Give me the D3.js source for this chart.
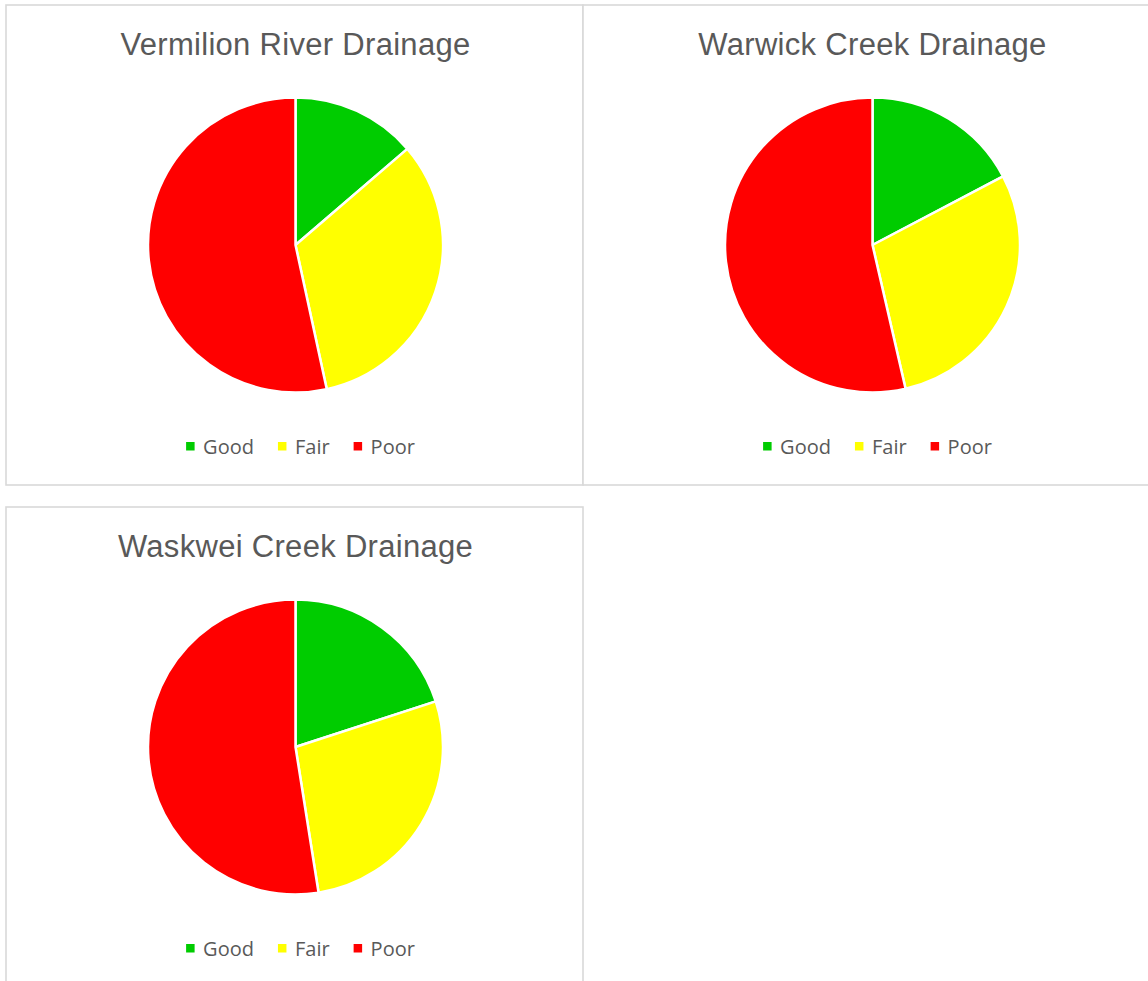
<!DOCTYPE html>
<html>
<head>
<meta charset="utf-8">
<script src="https://cdn.jsdelivr.net/npm/d3@7"></script>
<style>
html,body{margin:0;padding:0;background:#fff;overflow:hidden;}
</style>
</head>
<body>
<svg id="chart" width="1148" height="981"></svg>
<script>
const categories = ["Good", "Fair", "Poor"];
const colors = ["#00CC00", "#FFFF00", "#FF0000"];
const titles = ["Vermilion River Drainage", "Warwick Creek Drainage", "Waskwei Creek Drainage"];
const vermilionValues = [13.7, 32.9, 53.4];
const warwickValues = [17.3, 29.1, 53.6];
const waskweiValues = [20.0, 27.5, 52.5];
const seriesValues = [vermilionValues, warwickValues, waskweiValues];

const svg = d3.select("#chart");
const panels = [
  {x: 6, y: 5, w: 577, h: 480},
  {x: 583, y: 5, w: 600, h: 480},
  {x: 6, y: 507, w: 577, h: 520}
];

const color = d3.scaleOrdinal().domain(categories).range(colors);
const pie = d3.pie().sort(null).value(d => d.value);
const radius = 147.5;
const arc = d3.arc().innerRadius(0).outerRadius(radius);

panels.forEach((p, i) => {
  const g = svg.append("g").attr("transform", `translate(${p.x},${p.y})`);
  g.append("rect")
    .attr("x", 0).attr("y", 0).attr("width", p.w).attr("height", p.h)
    .attr("fill", "#fff").attr("stroke", "#d9d9d9").attr("stroke-width", 1.6);

  g.append("text")
    .attr("x", 289.5).attr("y", 49.5)
    .attr("text-anchor", "middle")
    .attr("font-family", "'Liberation Sans', Arial, sans-serif")
    .attr("font-size", 31)
    .attr("letter-spacing", 0.3)
    .attr("fill", "#595959")
    .text(titles[i]);

  const data = categories.map((c, k) => ({cat: c, value: seriesValues[i][k]}));
  const pg = g.append("g").attr("transform", `translate(289.5,240)`);
  pg.selectAll("path").data(pie(data)).join("path")
    .attr("d", arc)
    .attr("fill", d => color(d.data.cat))
    .attr("stroke", "#fff")
    .attr("stroke-width", 2.5)
    .attr("stroke-linejoin", "round");

  // legend
  const lg = g.append("g");
  let xPos = 0;
  categories.forEach((c, k) => {
    const ig = lg.append("g");
    ig.append("rect").attr("x", 0).attr("y", -11.5).attr("width", 8.5).attr("height", 8.5).attr("fill", color(c));
    const t = ig.append("text").attr("x", 17).attr("y", 0)
      .attr("font-family", "'Open Sans', 'Noto Sans', sans-serif")
      .attr("font-size", 20)
      .attr("fill", "#595959")
      .text(c);
    const w = 17 + t.node().getComputedTextLength();
    ig.attr("transform", `translate(${xPos},0)`);
    xPos += w + 24;
  });
  const total = xPos - 24;
  lg.attr("transform", `translate(${294.5 - total / 2},${448.5})`);
});
</script>
</body>
</html>
